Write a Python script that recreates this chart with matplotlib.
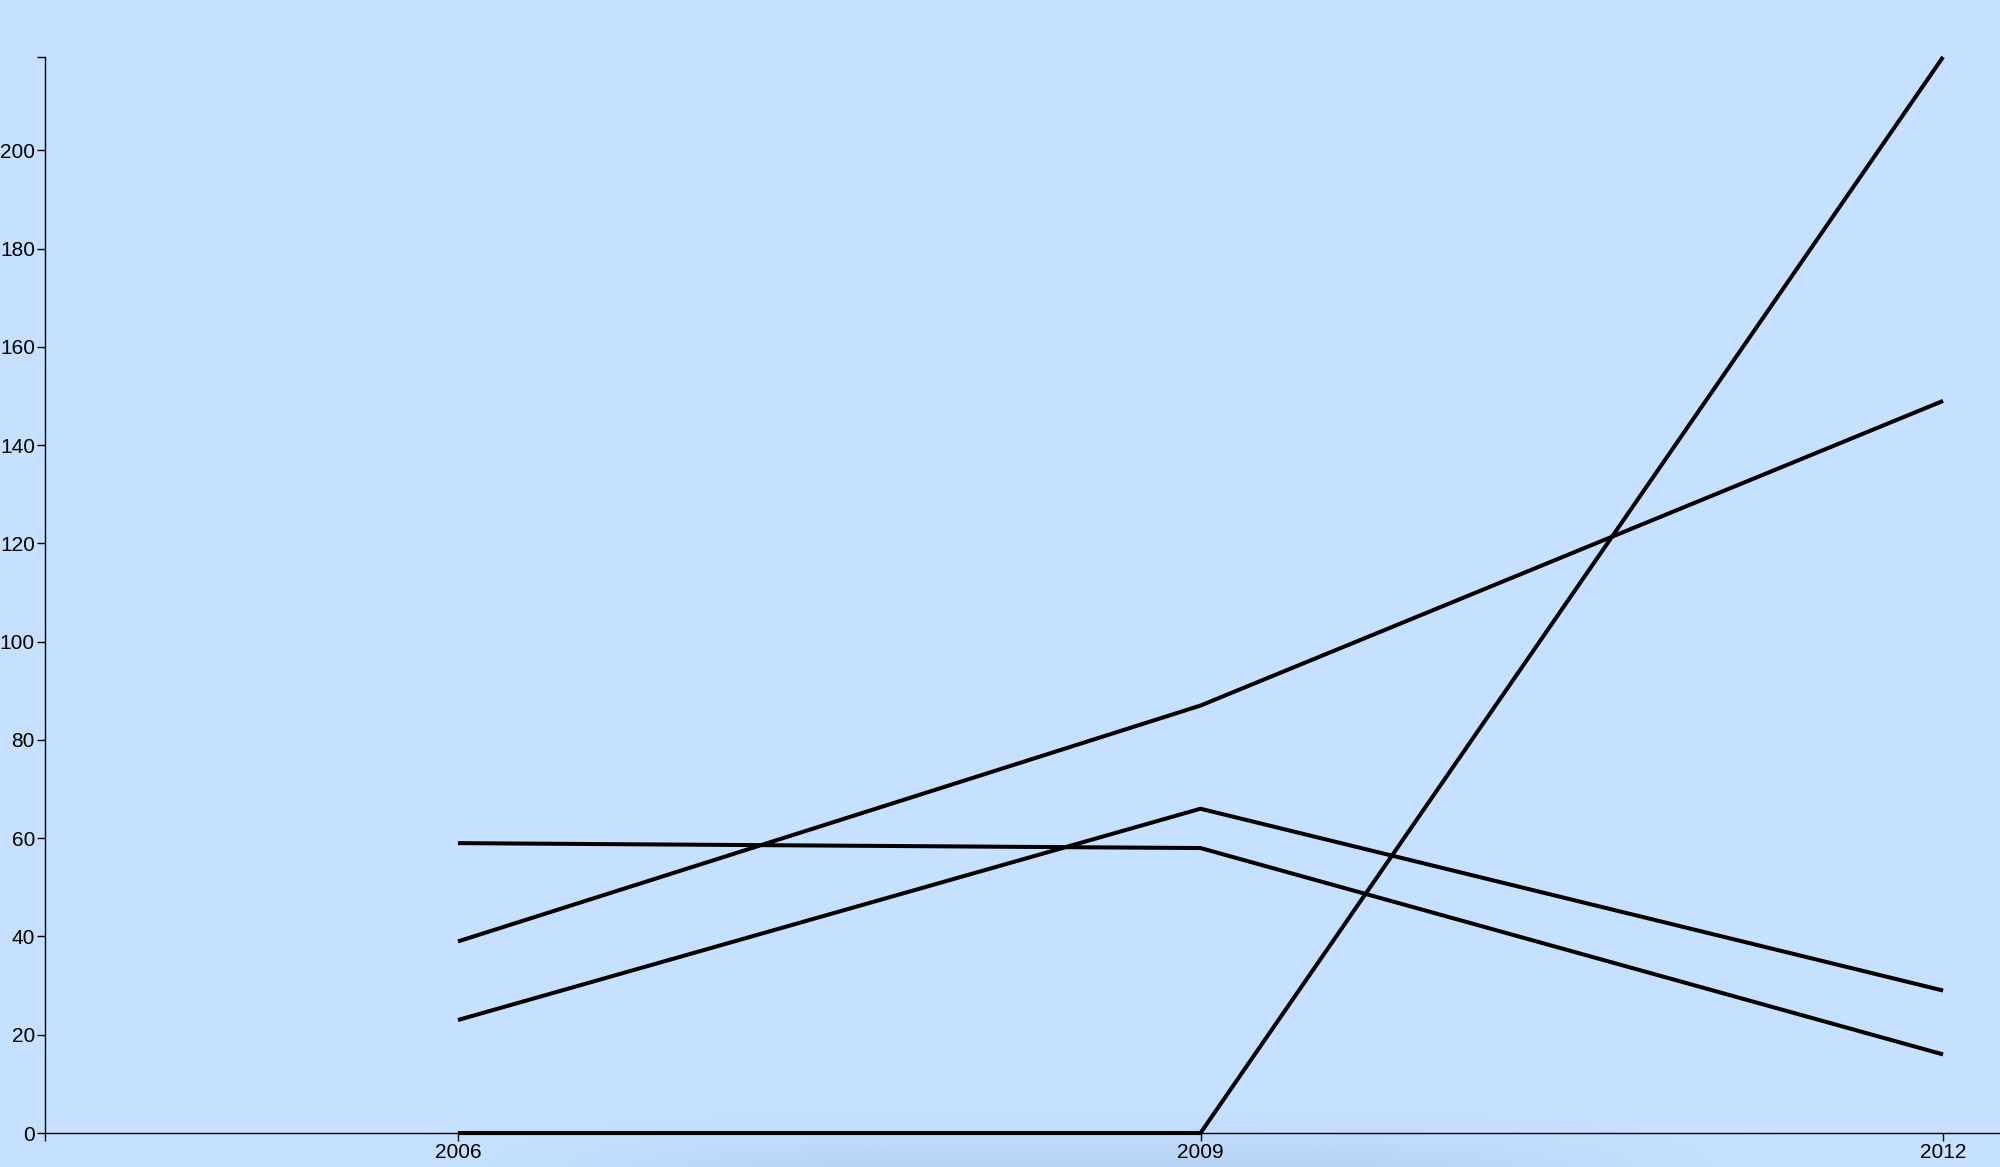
import matplotlib.pyplot as plt
import numpy as np

# values
years = [2006, 2009, 2012]
series_a = [0, 0, 219]
series_b = [39, 87, 149]
series_c = [59, 58, 16]
series_d = [23, 66, 29]
y_ticks = [0, 20, 40, 60, 80, 100, 120, 140, 160, 180, 200]

bg = '#c6e0ff'
plt.rcParams['font.family'] = ['Liberation Sans', 'DejaVu Sans']

fig = plt.figure(figsize=(20, 11.67), dpi=100)
fig.patch.set_facecolor(bg)

# soft darker glow along the bottom edge
glow = fig.add_axes([0, 0, 1, 1], zorder=0)
gx, gy = np.meshgrid(np.linspace(0, 1, 400), np.linspace(0, 1, 400))
alpha = np.exp(-((gx - 0.55) / 0.24) ** 4 - ((gy + 0.005) / 0.03) ** 2) * 0.5
rgba = np.zeros(gx.shape + (4,))
rgba[..., :3] = np.array([0.66, 0.78, 0.92])
rgba[..., 3] = alpha
glow.imshow(rgba, origin='lower', extent=[0, 1, 0, 1], aspect='auto')
glow.set_axis_off()

ax = fig.add_axes([0.0223, 0.0291, 0.9777, 0.9221], zorder=1)
ax.set_facecolor('none')

for vals in [series_a, series_b, series_c, series_d]:
    ax.plot(years, vals, color='black', lw=2.9, clip_on=False,
            solid_capstyle='butt', solid_joinstyle='miter', zorder=3)

ax.set_xlim(2004.33, 2012.23)
ax.set_ylim(0, 219)

ax.set_xticks(years)
ax.set_xticklabels([str(y) for y in years])
ax.set_yticks(y_ticks)
ax.set_xticks([2004.33], minor=True)
ax.set_yticks([219], minor=True)

for s in ['top', 'right']:
    ax.spines[s].set_visible(False)
for s in ['left', 'bottom']:
    ax.spines[s].set_linewidth(1.0)
    ax.spines[s].set_color('black')

ax.tick_params(axis='both', which='both', direction='out', length=6,
               width=1.0, color='black', labelsize=15, labelcolor='black', pad=1)

plt.savefig('out.png', dpi=100, facecolor=bg)
